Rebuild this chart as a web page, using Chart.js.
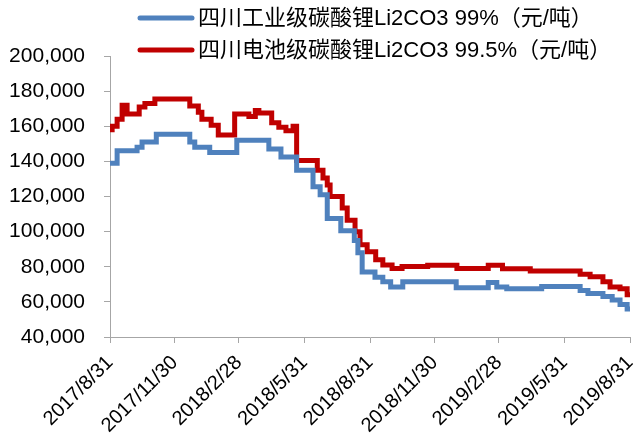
<!DOCTYPE html>
<html>
<head>
<meta charset="utf-8">
<script src="https://cdn.jsdelivr.net/npm/chart.js@4.4.1/dist/chart.umd.min.js"></script>
<style>
  html, body { margin: 0; padding: 0; background: #fff; }
  #wrap { width: 635px; height: 442px; }
</style>
</head>
<body>
<div id="wrap"><canvas id="lineChart"></canvas></div>
<script>
// price change points (date the new price starts, value in yuan/ton)
var industrialDates = ['2017/8/31', '2017/9/10', '2017/10/8', '2017/10/15', '2017/11/4', '2017/12/21', '2017/12/28',
  '2018/1/18', '2018/2/25', '2018/4/11', '2018/4/28', '2018/5/20', '2018/6/12', '2018/6/22', '2018/7/2', '2018/7/21',
  '2018/8/9', '2018/8/14', '2018/8/20', '2018/9/7', '2018/9/18', '2018/9/29', '2018/10/16', '2018/12/30',
  '2019/2/13', '2019/2/25', '2019/3/11', '2019/4/29', '2019/6/22', '2019/7/3', '2019/7/24', '2019/8/6', '2019/8/17',
  '2019/8/27', '2019/8/31'];
var industrialValues = [139000, 146000, 148000, 151000, 155500, 151000, 148000,
  145000, 152000, 147000, 142500, 135000, 125500, 121000, 107500, 100500,
  95000, 88000, 77000, 74000, 71500, 68500, 71500, 68000,
  71000, 68500, 67500, 68800, 66500, 64800, 63000, 61000, 58500,
  56000, 56000];

var batteryDates = ['2017/8/31', '2017/9/3', '2017/9/10', '2017/9/17', '2017/9/24', '2017/10/11', '2017/10/19', '2017/11/2',
  '2017/12/21', '2018/1/2', '2018/1/7', '2018/1/20', '2018/1/30', '2018/2/22', '2018/3/14', '2018/3/23', '2018/3/28',
  '2018/4/15', '2018/4/25', '2018/5/5', '2018/5/15', '2018/5/20', '2018/6/18', '2018/6/26', '2018/7/2', '2018/7/6',
  '2018/7/23', '2018/7/30', '2018/8/10', '2018/8/17', '2018/8/27', '2018/9/8', '2018/9/18', '2018/10/1', '2018/10/15',
  '2018/11/20', '2018/12/31', '2019/2/13', '2019/3/5', '2019/4/13', '2019/6/22', '2019/7/6', '2019/7/24', '2019/8/3',
  '2019/8/17', '2019/8/27', '2019/8/31'];
var batteryValues = [158000, 160000, 164000, 172000, 167000, 171000, 173000, 175500,
  171500, 168000, 164000, 160500, 155000, 167000, 165500, 169000, 167500,
  162000, 159500, 157500, 160000, 140500, 135000, 130500, 126500, 120000,
  113500, 106500, 100000, 92500, 88500, 84000, 81000, 79000, 80200,
  80800, 79000, 80800, 78800, 77600, 75700, 74300, 71500, 68500,
  67500, 64000, 64000];

var tickLabels = ['2017/8/31', '2017/11/30', '2018/2/28', '2018/5/31', '2018/8/31',
  '2018/11/30', '2019/2/28', '2019/5/31', '2019/8/31'];

var seriesNames = ['四川工业级碳酸锂Li2CO3 99%（元/吨）', '四川电池级碳酸锂Li2CO3 99.5%（元/吨）'];

var FONT = '"Liberation Sans", Arial, "Noto Sans CJK SC", sans-serif';

function dayOf(s) {
  var p = s.split('/').map(Number);
  return (Date.UTC(p[0], p[1] - 1, p[2]) - Date.UTC(2017, 7, 31)) / 86400000;
}
function toPoints(dates, values) {
  return dates.map(function (d, i) { return {x: dayOf(d), y: values[i]}; });
}
var tickDays = tickLabels.map(dayOf);

// legend drawn by hand so both rows line up on the left
var legendPlugin = {
  id: 'leftLegend',
  afterDraw: function (chart) {
    var ctx = chart.ctx;
    ctx.save();
    chart.data.datasets.forEach(function (ds, i) {
      var y = 18 + i * 32;
      ctx.strokeStyle = ds.borderColor;
      ctx.lineWidth = 5;
      ctx.lineCap = 'round';
      ctx.beginPath();
      ctx.moveTo(140, y);
      ctx.lineTo(192, y);
      ctx.stroke();
      ctx.fillStyle = '#000';
      ctx.font = '22px ' + FONT;
      ctx.textBaseline = 'middle';
      ctx.fillText(ds.label, 198, y + 1);
    });
    ctx.restore();
  }
};

var ctxL = document.getElementById('lineChart').getContext('2d');
var myLineChart = new Chart(ctxL, {
  type: 'line',
  data: {
    datasets: [{
      label: seriesNames[0],
      data: toPoints(industrialDates, industrialValues),
      borderColor: 'rgb(79, 129, 189)',
      backgroundColor: 'rgba(255, 255, 255, 0)',
      borderWidth: 5,
      pointRadius: 0,
      stepped: true
    },
    {
      label: seriesNames[1],
      data: toPoints(batteryDates, batteryValues),
      borderColor: 'rgb(192, 0, 0)',
      backgroundColor: 'rgba(255, 255, 255, 0)',
      borderWidth: 5,
      pointRadius: 0,
      stepped: true
    }]
  },
  options: {
    responsive: true,
    maintainAspectRatio: false,
    animation: false,
    layout: { padding: { top: 56, left: 9, right: 5, bottom: 0 } },
    plugins: { legend: { display: false }, tooltip: { enabled: false } },
    scales: {
      x: {
        type: 'linear',
        min: 0,
        max: tickDays[tickDays.length - 1],
        afterBuildTicks: function (axis) {
          axis.ticks = tickDays.map(function (v) { return {value: v}; });
        },
        afterFit: function (axis) { axis.paddingRight = 0; axis.height = 105; },
        grid: { drawOnChartArea: false, color: '#A6A6A6', tickLength: 6 },
        border: { color: '#A6A6A6', width: 1 },
        ticks: {
          autoSkip: false,
          minRotation: 45,
          maxRotation: 45,
          padding: 8,
          color: '#000',
          font: { family: FONT, size: 20 },
          callback: function (v) {
            var i = tickDays.indexOf(v);
            return i >= 0 ? tickLabels[i] : '';
          }
        }
      },
      y: {
        min: 40000,
        max: 200000,
        afterFit: function (axis) { axis.width = 101; },
        grid: { drawOnChartArea: false, color: '#A6A6A6', tickLength: 6 },
        border: { color: '#A6A6A6', width: 1 },
        ticks: {
          stepSize: 20000,
          padding: 19,
          color: '#000',
          font: { family: FONT, size: 21 },
          callback: function (v) { return v.toLocaleString('en-US'); }
        }
      }
    }
  },
  plugins: [legendPlugin]
});
</script>
</body>
</html>
